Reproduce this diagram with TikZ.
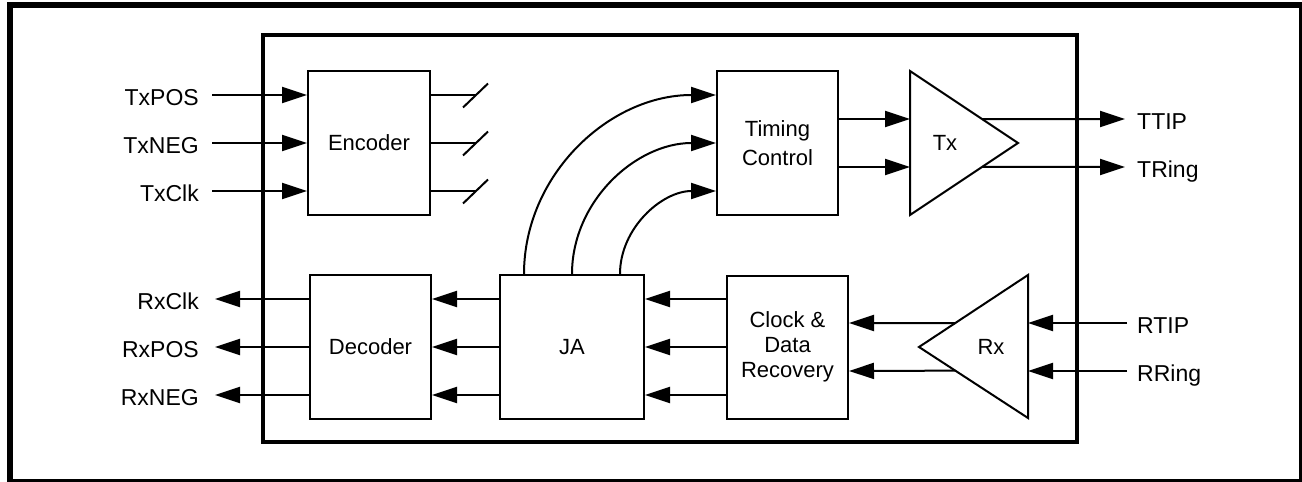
\documentclass[tikz,border=0pt]{standalone}
\usepackage{fontspec}
\setmainfont{Liberation Sans}
\usetikzlibrary{arrows.meta,calc}
\begin{document}
\begin{tikzpicture}[x=1pt,y=-1pt,
  blk/.style={draw, line width=2pt, inner sep=0pt, font=\fontsize{22}{25}\selectfont, align=center},
  lbl/.style={inner sep=0pt, font=\fontsize{23}{26}\selectfont, text height=17pt, text depth=0pt},
  tri/.style={inner sep=0pt, font=\fontsize{22}{25}\selectfont},
  wire/.style={line width=2pt},
  arr/.style={line width=2pt, -{Triangle[length=25pt,width=16pt]}}]
\useasboundingbox (0,0) rectangle (1302,482);
\draw[line width=6pt] (10,5) rectangle (1302,482);
\draw[line width=4pt] (263,35) rectangle (1077,442);

% blocks
\node[blk, minimum width=122pt, minimum height=144pt] (enc) at (369,143) {Encoder};
\node[blk, minimum width=121pt, minimum height=144pt] (tc) at (777.5,143) {Timing\\[4pt]Control};
\node[blk, minimum width=144pt, minimum height=144pt] (ja) at (572,347) {JA};
\node[blk, minimum width=121pt, minimum height=143pt] (cdr) at (787.5,347) {Clock \&\\Data\\Recovery};
\node[blk, minimum width=121pt, minimum height=144pt] (dec) at (370.5,347) {Decoder};

% Tx triangle
\coordinate (txa) at (910,71);
\coordinate (txtip) at (1018,143);
\coordinate (txb) at (910,215);
\draw[wire, line join=miter] (txa) -- (txtip) -- (txb) -- cycle;
\node[tri] (txl) at (945,143) {Tx};

% Rx triangle
\coordinate (rxa) at (1028,275);
\coordinate (rxtip) at (919,347);
\coordinate (rxb) at (1028,418);
\draw[wire, line join=miter] (rxa) -- (rxtip) -- (rxb) -- cycle;
\node[tri] (rxl) at (991,347) {Rx};

% Encoder inputs
\foreach \n/\dy/\t in {1/-48/TxPOS, 2/0/TxNEG, 3/48/TxClk}{
  \coordinate (ein\n) at ($(enc.west)+(0,\dy)$);
  \coordinate (src\n) at (212,143+\dy);
  \node[lbl, anchor=east] (lin\n) at (199,144.5+\dy) {\t};
  \draw[arr] (src\n) -- (ein\n);
  % encoder outputs with bus slash
  \coordinate (eout\n) at ($(enc.east)+(0,\dy)$);
  \coordinate (eend\n) at (476,143+\dy);
  \draw[wire] (eout\n) -- (eend\n);
  \draw[wire] ($(eend\n)+(-13,12.5)$) -- ($(eend\n)+(12,-11.5)$);
}

% arcs JA -> Timing Control
\coordinate (j1) at ($(ja.north)+(-48,0)$);
\coordinate (j2) at (ja.north);
\coordinate (j3) at ($(ja.north)+(48,0)$);
\coordinate (t1) at ($(tc.west)+(0,-48)$);
\coordinate (t2) at (tc.west);
\coordinate (t3) at ($(tc.west)+(0,48)$);
\draw[arr] (j1) .. controls +(0,-99) and +(-107,0) .. (t1);
\draw[arr] (j2) .. controls +(0,-73) and +(-80,0) .. (t2);
\draw[arr] (j3) .. controls +(0,-46) and +(-54,0) .. (t3);

% Timing Control -> Tx -> outputs
\foreach \n/\dy/\f/\t in {1/-24/0.667/TTIP, 2/24/0.333/TRing}{
  \coordinate (tco\n) at ($(tc.east)+(0,\dy)$);
  \coordinate (txi\n) at (910,143+\dy);
  \draw[arr] (tco\n) -- (txi\n);
}
\coordinate (txo1) at ($(txa)!0.667!(txtip)$);
\coordinate (txo2) at ($(txtip)!0.333!(txb)$);
\coordinate (pin1) at (1125,119);
\coordinate (pin2) at (1125,167);
\draw[arr] (txo1) -- (pin1);
\draw[arr] (txo2) -- (pin2);
\node[lbl, anchor=west] (lttip) at (1137,120.5) {TTIP};
\node[lbl, anchor=west] (ltring) at (1137,168.5) {TRing};

% Rx inputs
\coordinate (rsrc1) at (1127,323);
\coordinate (rsrc2) at (1127,371);
\coordinate (rxi1) at (1028,323);
\coordinate (rxi2) at (1028,371);
\draw[arr] (rsrc1) -- (rxi1);
\draw[arr] (rsrc2) -- (rxi2);
\node[lbl, anchor=west] (lrtip) at (1137,324.5) {RTIP};
\node[lbl, anchor=west] (lrring) at (1137,372.5) {RRing};

% Rx -> CDR
\coordinate (rxo1) at ($(rxa)!0.667!(rxtip)$);
\coordinate (rxo2) at ($(rxtip)!0.333!(rxb)$);
\coordinate (cdi1) at ($(cdr.east)+(0,-24)$);
\coordinate (cdi2) at ($(cdr.east)+(0,24)$);
\draw[arr] (rxo1) -- (cdi1);
\draw[arr] (rxo2) -- (cdi2);

% CDR -> JA -> Decoder -> outputs
\foreach \n/\dy/\t in {1/-48/RxClk, 2/0/RxPOS, 3/48/RxNEG}{
  \draw[arr] ($(cdr.west)+(0,\dy)$) -- ($(ja.east)+(0,\dy)$);
  \draw[arr] ($(ja.west)+(0,\dy)$) -- ($(dec.east)+(0,\dy)$);
  \coordinate (rout\n) at (215,347+\dy);
  \draw[arr] ($(dec.west)+(0,\dy)$) -- (rout\n);
  \node[lbl, anchor=east] (lout\n) at (199,348.5+\dy) {\t};
}
\end{tikzpicture}
\end{document}
